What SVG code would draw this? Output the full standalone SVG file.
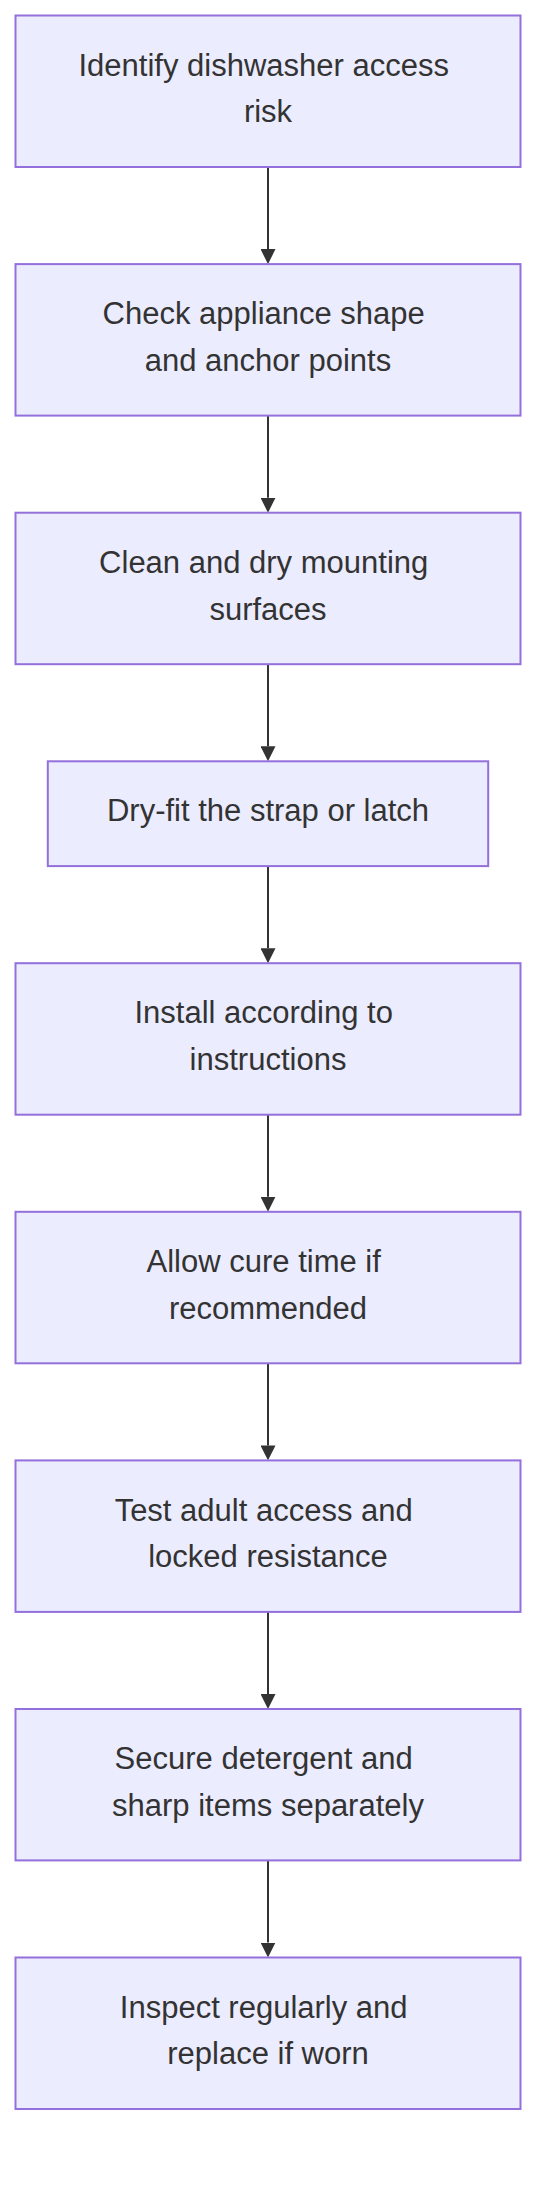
<svg xmlns="http://www.w3.org/2000/svg" width="552" height="2188" viewBox="0 0 552 2188">
<style>
.node rect{fill:#ECECFF;stroke:#9370DB;stroke-width:2;}
.node text{font-family:"Liberation Sans",Arial,sans-serif;font-size:31px;fill:#333333;text-anchor:middle;}
.edge{stroke:#333333;stroke-width:2;fill:none;marker-end:url(#arrow);}
</style>
<defs>
<marker id="arrow" viewBox="0 0 10 10" refX="0" refY="5" markerUnits="userSpaceOnUse" markerWidth="15" markerHeight="15" orient="auto">
<path d="M0,0 L10,5 L0,10 z" fill="#333333"/>
</marker>
</defs>
<rect width="552" height="2188" fill="#ffffff"/>
<g id="edges">
<path class="edge" d="M268,167 L268,249.1"/>
<path class="edge" d="M268,415.6 L268,497.7"/>
<path class="edge" d="M268,664.2 L268,746.3"/>
<path class="edge" d="M268,866.1 L268,948.2"/>
<path class="edge" d="M268,1114.7 L268,1196.8"/>
<path class="edge" d="M268,1363.3 L268,1445.4"/>
<path class="edge" d="M268,1611.9 L268,1694"/>
<path class="edge" d="M268,1860.4 L268,1942.5"/>
</g>
<g id="n1" class="node"><rect x="15.5" y="15.5" width="505" height="151.5"/><text x="263.7" y="75.7">Identify dishwasher access</text><text x="268" y="122.3">risk</text></g>
<g id="n2" class="node"><rect x="15.5" y="264.1" width="505" height="151.5"/><text x="263.7" y="324.3">Check appliance shape</text><text x="268" y="370.9">and anchor points</text></g>
<g id="n3" class="node"><rect x="15.5" y="512.7" width="505" height="151.5"/><text x="263.7" y="572.9">Clean and dry mounting</text><text x="268" y="619.5">surfaces</text></g>
<g id="n4" class="node"><rect x="47.8" y="761.3" width="440.4" height="104.8"/><text x="268" y="821.2">Dry-fit the strap or latch</text></g>
<g id="n5" class="node"><rect x="15.5" y="963.2" width="505" height="151.5"/><text x="263.7" y="1023.4">Install according to</text><text x="268" y="1070">instructions</text></g>
<g id="n6" class="node"><rect x="15.5" y="1211.8" width="505" height="151.5"/><text x="263.7" y="1272">Allow cure time if</text><text x="268" y="1318.6">recommended</text></g>
<g id="n7" class="node"><rect x="15.5" y="1460.4" width="505" height="151.5"/><text x="263.7" y="1520.6">Test adult access and</text><text x="268" y="1567.2">locked resistance</text></g>
<g id="n8" class="node"><rect x="15.5" y="1709" width="505" height="151.4"/><text x="263.7" y="1769.1">Secure detergent and</text><text x="268" y="1815.7">sharp items separately</text></g>
<g id="n9" class="node"><rect x="15.5" y="1957.5" width="505" height="151.5"/><text x="263.7" y="2017.7">Inspect regularly and</text><text x="268" y="2064.3">replace if worn</text></g>
</svg>
